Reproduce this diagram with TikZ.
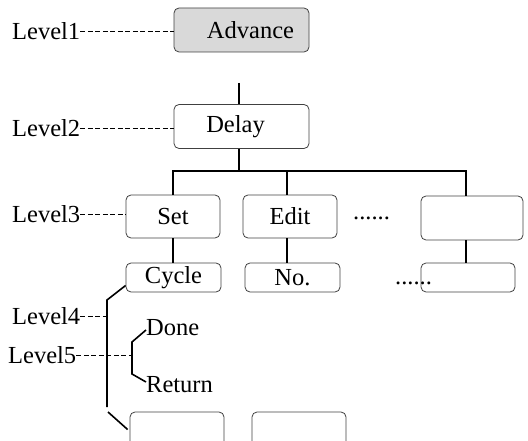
\documentclass[tikz,border=0pt]{standalone}
\usepackage{fontspec}
\setmainfont{Liberation Serif}
\usetikzlibrary{positioning, calc}

\begin{document}
\begin{tikzpicture}[
	x=1pt, y=-1pt,
	font=\fontsize{24.5}{28}\selectfont,
	% Style for the menu boxes
	menuBox/.style={
		draw=black!75, line width=0.8pt, rounded corners=5pt,
		inner sep=0pt, minimum width=94pt, minimum height=43pt
	},
	flatBox/.style={menuBox, minimum height=29pt},
	topBox/.style={menuBox, minimum width=135pt, minimum height=44pt},
	% Connectors and level marks
	link/.style={line width=1.6pt},
	lvlDash/.style={line width=0.9pt, dash pattern=on 5pt off 2.5pt},
	lvlLabel/.style={anchor=west, inner sep=0pt},
	plainText/.style={anchor=west, inner sep=0pt}
	]
	\useasboundingbox (0,0) rectangle (528,441);
	
	% ==============================================================================
	% LEVEL 1 AND LEVEL 2
	% ==============================================================================
	\node[topBox, fill=black!15] (adv) at (241.5, 30) {\hspace*{18pt}Advance};
	\node[topBox] (dly) at (241.5, 126.5) {Delay\hspace*{12pt}};
	
	\coordinate (stub) at (239, 83);
	\coordinate (hub) at (239, 171);
	\draw[link] (stub) -- (stub |- dly.north);
	\draw[link] (stub |- dly.south) -- (hub);
	
	% ==============================================================================
	% LEVEL 3
	% ==============================================================================
	\node[menuBox] (set) at (173, 216.5) {Set};
	\node[menuBox] (edit) at (290, 216.5) {Edit};
	\node[menuBox, minimum width=102pt, minimum height=44pt] (rbox) at (472, 218) {};
	\node[anchor=base west, inner sep=0pt] (dotsA) at (353, 219) {......};
	
	\draw[link] (set.north) |- (hub) -| ([xshift=-6pt]rbox.north);
	\draw[link] ([xshift=-3pt]edit.north) -- ([xshift=-3pt]edit.north |- hub);
	
	% ==============================================================================
	% LEVEL 4
	% ==============================================================================
	\node[flatBox, minimum width=95pt] (cyc) at (173.5, 277.5) {Cycle};
	\node[flatBox, minimum width=95pt] (no) at (292.5, 277.5) {No.};
	\node[flatBox] (rlow) at (468, 277.5) {};
	\node[anchor=base west, inner sep=0pt] (dotsB) at (395, 284) {......};
	
	\draw[link] (set.south) -- (set.south |- cyc.north);
	\draw[link] ([xshift=-3pt]edit.south) -- ([xshift=-3pt]edit.south |- no.north);
	\draw[link] ([xshift=-6pt]rbox.south) -- ([xshift=-6pt]rbox.south |- rlow.north);
	
	% Bottom row (cut off by the frame)
	\node[menuBox] (botA) at (177, 433.5) {};
	\node[menuBox] (botB) at (299, 433.5) {};
	
	% Long bracket
	\coordinate (bkTop) at (107, 300);
	\coordinate (bkMid) at (107, 407);
	\coordinate (bkLow) at (108, 412);
	\draw[link] ($(cyc.west)+(0,8)$) -- (bkTop) -- (bkMid);
	\draw[link] (bkLow) -- ($(botA.west)+(-2,-4)$);
	
	% ==============================================================================
	% LEVEL 5
	% ==============================================================================
	\node[plainText] (done) at (146, 328) {Done};
	\node[plainText] (ret) at (146, 385) {Return};
	
	\coordinate (sbTop) at (132, 342);
	\coordinate (sbMid) at (132, 355);
	\coordinate (sbBot) at (132, 374);
	\draw[link] ($(done.west)+(0,2)$) -- (sbTop) -- (sbBot) -- ($(ret.west)+(0,-3)$);
	
	% ==============================================================================
	% LEVEL LABELS
	% ==============================================================================
	\node[lvlLabel] (lv1) at (12, 31) {Level1};
	\node[lvlLabel] (lv2) at (12, 128) {Level2};
	\node[lvlLabel] (lv3) at (12, 214) {Level3};
	\node[lvlLabel] (lv4) at (12, 316) {Level4};
	\node[lvlLabel] (lv5) at (8, 355) {Level5};
	\coordinate (lv4End) at (110, 316);
	
	\draw[lvlDash] (lv1.east) -- (lv1.east -| adv.west);
	\draw[lvlDash] (lv2.east) -- (lv2.east -| dly.west);
	\draw[lvlDash] (lv3.east) -- (lv3.east -| set.west);
	\draw[lvlDash] (lv4.east) -- (lv4End);
	\draw[lvlDash] (lv5.east) -- (sbMid);
	
\end{tikzpicture}
\end{document}
